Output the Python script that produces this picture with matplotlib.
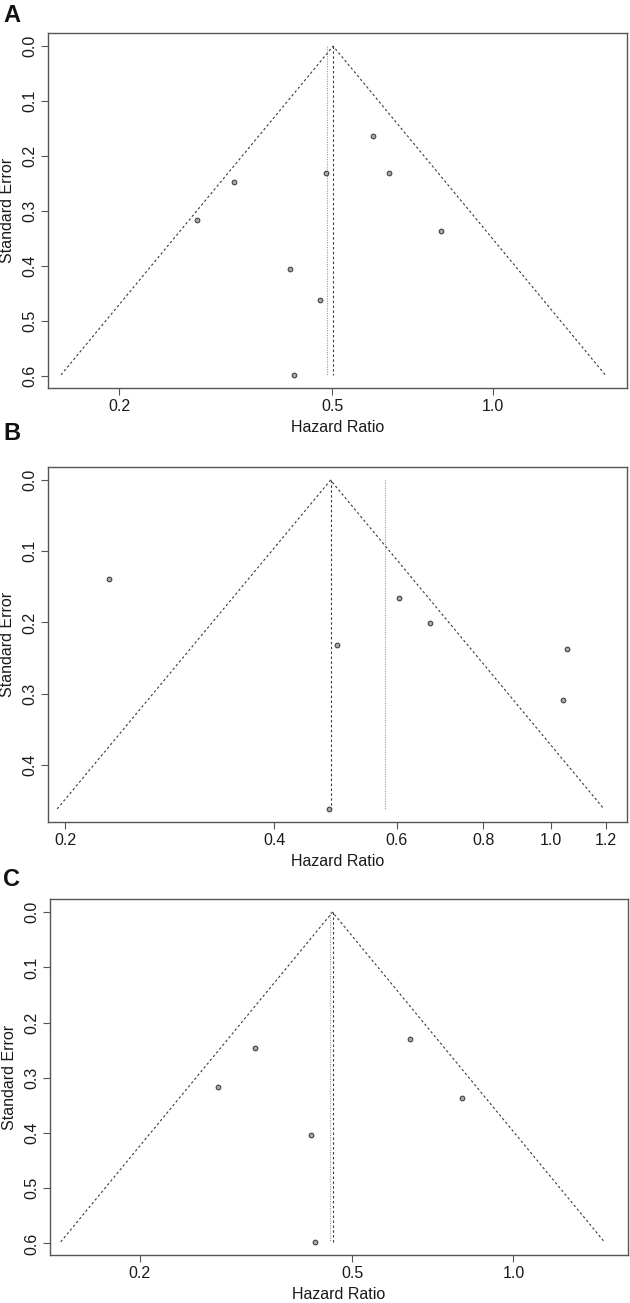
import numpy as np
import matplotlib
matplotlib.use("Agg")
import matplotlib.pyplot as plt

plt.rcParams['font.family'] = ['Liberation Sans', 'DejaVu Sans']

# ---- Data ----
# Panel A
a_hr = [0.596, 0.638, 0.486, 0.327, 0.279, 0.798, 0.416, 0.474, 0.424]
a_se = [0.164, 0.230, 0.231, 0.247, 0.317, 0.337, 0.405, 0.462, 0.598]
a_fixed = 0.502
a_random = 0.489
# Panel B
b_hr = [0.231, 0.604, 0.671, 0.493, 1.056, 1.040, 0.480]
b_se = [0.139, 0.165, 0.201, 0.232, 0.238, 0.309, 0.462]
b_fixed = 0.482
b_random = 0.578
# Panel C
c_hr = [0.642, 0.329, 0.280, 0.802, 0.418, 0.425]
c_se = [0.230, 0.246, 0.317, 0.337, 0.404, 0.597]
c_fixed = 0.459
c_random = 0.455

a_xticks = [0.2, 0.5, 1.0]
b_xticks = [0.2, 0.4, 0.6, 0.8, 1.0, 1.2]
c_xticks = [0.2, 0.5, 1.0]
a_yticks = [0.0, 0.1, 0.2, 0.3, 0.4, 0.5, 0.6]
b_yticks = [0.0, 0.1, 0.2, 0.3, 0.4]
c_yticks = [0.0, 0.1, 0.2, 0.3, 0.4, 0.5, 0.6]

panel_labels = ['A', 'B', 'C']
xlabel = 'Hazard Ratio'
ylabel = 'Standard Error'

W, H = 630, 1303
fig = plt.figure(figsize=(W / 100, H / 100), dpi=100)


def px_axes(left, right, top, bottom):
    return fig.add_axes([left / W, 1 - bottom / H, (right - left) / W, (bottom - top) / H])


def funnel(ax, hr, se, fixed, random, xticks, yticks, xlim):
    se_max = max(se)
    th = np.log(fixed)
    xs = np.exp([th - 1.96 * se_max, th, th + 1.96 * se_max])
    ys = [se_max, 0, se_max]
    ax.plot(xs, ys, color='#3a3a3a', lw=0.8, ls=(0, (2.2, 2.2)), zorder=2)
    ax.plot([fixed, fixed], [0, se_max], color='#3a3a3a', lw=0.8, ls=(0, (2.2, 2.2)), zorder=2)
    ax.plot([random, random], [0, se_max], color='#9a9a9a', lw=0.8, ls=(0, (1, 1.2)), zorder=2)
    ax.plot(hr, se, ls='none', marker='o', ms=3.4, mfc='#a8a8a8', mec='#333333', mew=0.7, zorder=3)
    ax.set_xscale('log')
    ax.set_xlim(*xlim)
    pad = 0.04 * se_max
    ax.set_ylim(se_max + pad, -pad)
    ax.set_xticks(xticks)
    ax.set_xticklabels([f'{t:.1f}' for t in xticks])
    ax.xaxis.set_minor_locator(matplotlib.ticker.NullLocator())
    ax.set_yticks(yticks)
    ax.set_yticklabels([f'{t:.1f}' for t in yticks], rotation=90, va='center')
    for s in ax.spines.values():
        s.set_color('#555555')
        s.set_linewidth(1.0)
    ax.tick_params(axis='both', length=5, width=0.8, color='#555555', labelsize=11.5,
                   labelcolor='#1a1a1a', pad=3)
    ax.set_xlabel(xlabel, fontsize=11.5, color='#1a1a1a', labelpad=4)
    ax.set_ylabel(ylabel, fontsize=11.5, color='#1a1a1a', labelpad=5)


axA = px_axes(48, 627, 33, 388)
funnel(axA, a_hr, a_se, a_fixed, a_random, a_xticks, a_yticks, (0.147, 1.78))
axB = px_axes(48, 627, 467, 822)
funnel(axB, b_hr, b_se, b_fixed, b_random, b_xticks, b_yticks, (0.189, 1.287))
axC = px_axes(50, 628, 899, 1255)
funnel(axC, c_hr, c_se, c_fixed, c_random, c_xticks, c_yticks, (0.136, 1.638))

for lab, yc in zip(panel_labels, [15, 433, 880]):
    fig.text(3 / W, 1 - yc / H, lab, fontsize=17, fontweight='bold', va='center', ha='left',
             color='#111111')

fig.savefig('out.png', dpi=100, facecolor='white')
